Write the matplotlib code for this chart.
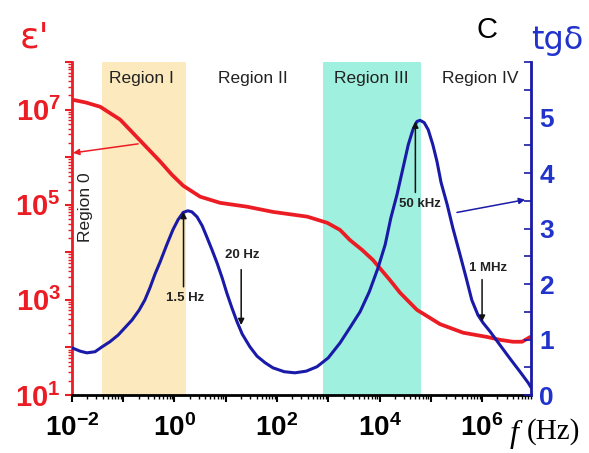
import matplotlib

matplotlib.use("Agg")
import matplotlib.pyplot as plt
import numpy as np
from matplotlib.ticker import FixedLocator, FuncFormatter, LogLocator, MultipleLocator

plt.rcParams["font.family"] = ["Liberation Sans", "DejaVu Sans"]
plt.rcParams["mathtext.fontset"] = "custom"
plt.rcParams["mathtext.rm"] = "Liberation Sans"
plt.rcParams["mathtext.bf"] = "Liberation Sans:bold"
plt.rcParams["mathtext.it"] = "Liberation Sans:italic"

RED = "#ec1c24"
BLUE = "#1a1aa8"
BLUE_TXT = "#2233cc"

# ε' (log10) vs log10 f
eps_logf = [-2.00, -1.73, -1.45, -1.06, -0.67, -0.28, -0.05, 0.17, 0.50, 0.89,
            1.41, 1.92, 2.59, 2.98, 3.23, 3.42, 3.66, 3.87, 4.20, 4.40,
            4.73, 5.18, 5.63, 6.10, 6.35, 6.60, 6.78, 6.94]
eps_log = [7.21, 7.15, 7.06, 6.79, 6.35, 5.91, 5.63, 5.40, 5.17, 5.04,
           4.96, 4.85, 4.75, 4.62, 4.47, 4.26, 4.05, 3.84, 3.42, 3.15,
           2.79, 2.49, 2.31, 2.22, 2.16, 2.12, 2.12, 2.22]

# tgδ vs log10 f
tg_logf = [-2.00, -1.84, -1.71, -1.55, -1.41, -1.26, -1.10, -0.97, -0.83, -0.69,
           -0.58, -0.48, -0.38, -0.28, -0.15, -0.03, 0.07, 0.17, 0.26, 0.34,
           0.44, 0.54, 0.63, 0.73, 0.83, 0.93, 1.02, 1.12, 1.22, 1.32,
           1.47, 1.61, 1.77, 1.92, 2.14, 2.35, 2.57, 2.78, 3.00, 3.23,
           3.42, 3.62, 3.80, 3.97, 4.11, 4.22, 4.34, 4.46, 4.56, 4.65,
           4.73, 4.79, 4.87, 4.95, 5.04, 5.12, 5.20, 5.32, 5.43, 5.57,
           5.69, 5.80, 5.92, 6.02, 6.16, 6.35, 6.55, 6.74, 6.90, 6.96]
tg = [0.85, 0.79, 0.76, 0.78, 0.87, 0.96, 1.08, 1.21, 1.35, 1.53,
      1.71, 1.93, 2.18, 2.40, 2.71, 2.98, 3.16, 3.29, 3.32, 3.30,
      3.21, 3.05, 2.85, 2.62, 2.38, 2.11, 1.84, 1.57, 1.32, 1.10,
      0.87, 0.70, 0.58, 0.49, 0.42, 0.40, 0.43, 0.51, 0.67, 0.94,
      1.21, 1.50, 1.86, 2.29, 2.71, 3.19, 3.61, 4.10, 4.51, 4.78,
      4.93, 4.95, 4.91, 4.78, 4.51, 4.21, 3.83, 3.43, 3.01, 2.53,
      2.11, 1.71, 1.44, 1.30, 1.14, 0.90, 0.65, 0.42, 0.22, 0.13]

regions = ["Region I", "Region II", "Region III", "Region IV"]
region_x = [0.23, 34, 6900, 9.1e5]
region_I = (0.039, 1.65)
region_III = (800, 6.3e4)

# frequency markers: (label, f, tail tgδ, tip tgδ, text f, text tgδ)
markers = [
    ("1.5 Hz", 1.5, 1.95, 3.30, 1.58, 1.75),
    ("20 Hz", 20, 2.26, 1.26, 21, 2.53),
    ("50 kHz", 5e4, 3.65, 4.93, 6.2e4, 3.45),
    ("1 MHz", 1e6, 2.08, 1.32, 1.3e6, 2.29),
]

fig = plt.figure(figsize=(5.89, 4.53), dpi=100)
ax = fig.add_axes([0.1222, 0.128, 0.7793, 0.735])
ax2 = ax.twinx()

ax.axvspan(*region_I, color="#fce9bd", lw=0, zorder=0)
ax.axvspan(*region_III, color="#9ff0de", lw=0, zorder=0)

ax.plot(10 ** np.array(eps_logf), 10 ** np.array(eps_log), color=RED, lw=2.7,
        solid_capstyle="round", solid_joinstyle="round")
ax2.plot(10 ** np.array(tg_logf), tg, color=BLUE, lw=2.2,
         solid_capstyle="round", solid_joinstyle="round")

ax.set_xscale("log")
ax.set_yscale("log")
ax.set_xlim(1e-2, 9e6)
ax.set_ylim(1e1, 1e8)
ax2.set_ylim(0, 6)


def pow_label(v, _pos, keep_even=True):
    e = int(round(np.log10(v)))
    if (e % 2 == 0) != keep_even:
        return ""
    return r"$\mathbf{10^{%d}}$" % e


ax.xaxis.set_major_locator(FixedLocator([10.0 ** k for k in range(-2, 7)]))
ax.xaxis.set_minor_locator(LogLocator(base=10, subs=np.arange(2, 10), numticks=20))
ax.xaxis.set_major_formatter(FuncFormatter(pow_label))
ax.xaxis.set_minor_formatter(FuncFormatter(lambda v, p: ""))
ax.yaxis.set_major_locator(FixedLocator([10.0 ** k for k in range(1, 9)]))
ax.yaxis.set_minor_locator(LogLocator(base=10, subs=np.arange(2, 10), numticks=20))
ax.yaxis.set_major_formatter(FuncFormatter(lambda v, p: pow_label(v, p, keep_even=False)))
ax.yaxis.set_minor_formatter(FuncFormatter(lambda v, p: ""))

ax2.yaxis.set_major_locator(MultipleLocator(1))
ax2.yaxis.set_minor_locator(MultipleLocator(0.5))
ax2.yaxis.set_major_formatter(FuncFormatter(lambda v, p: "%d" % v if v < 5.5 else ""))

for a in (ax, ax2):
    a.spines["top"].set_visible(False)
ax.spines["left"].set_color(RED)
ax.spines["left"].set_linewidth(2)
ax.spines["bottom"].set_linewidth(2)
ax.spines["right"].set_visible(False)
ax2.spines["left"].set_visible(False)
ax2.spines["bottom"].set_visible(False)
ax2.spines["right"].set_color(BLUE)
ax2.spines["right"].set_linewidth(2)

ax.tick_params(axis="x", which="major", direction="out", length=5, width=1.5,
               pad=9, labelsize=20)
ax.tick_params(axis="x", which="minor", direction="out", length=3, width=1)
ax.tick_params(axis="y", which="major", direction="out", length=5, width=1.5,
               color=RED, labelcolor=RED, pad=3, labelsize=21)
ax.tick_params(axis="y", which="minor", direction="out", length=3, width=1, color=RED)
ax2.tick_params(axis="y", which="both", direction="in", length=5, width=1.2,
                color=BLUE, labelcolor=BLUE_TXT, pad=6)
ax2.tick_params(axis="y", which="major", labelsize=19)
for t in ax2.get_yticklabels():
    t.set_fontweight("bold")

for name, xr in zip(regions, region_x):
    ax.text(xr, 0.952, name, transform=ax.get_xaxis_transform(), ha="center",
            va="center", fontsize=12.5, color="#222222")
ax.text(0.0187, 9e4, "Region 0", rotation=90, ha="center", va="center",
        fontsize=12.5, color="#222222")

for label, f, y0, y1, tx, ty in markers:
    ax2.annotate("", xy=(f, y1), xytext=(f, y0),
                 arrowprops=dict(arrowstyle="-|>", color="#111111", lw=1.1,
                                 mutation_scale=9, shrinkA=0, shrinkB=0))
    ax2.text(tx, ty, label, ha="center", va="center", fontsize=9.5,
             fontweight="bold", color="#222222")

# arrows pointing each curve to its axis
ax.annotate("", xy=(0.0105, 10 ** 6.09), xytext=(0.195, 10 ** 6.28),
            arrowprops=dict(arrowstyle="-|>", color=RED, lw=1.1, mutation_scale=9,
                            shrinkA=0, shrinkB=0))
ax2.annotate("", xy=(10 ** 6.84, 3.52), xytext=(10 ** 5.51, 3.29),
             arrowprops=dict(arrowstyle="-|>", color=BLUE, lw=1.1, mutation_scale=9,
                             shrinkA=0, shrinkB=0))

fig.text(34 / 589, 1 - 38 / 453, "ε'", color=RED, fontsize=26, ha="center",
         va="center", family=["DejaVu Sans"])
fig.text(557 / 589, 1 - 40 / 453, "tgδ", color=BLUE_TXT, fontsize=23, ha="center",
         va="center", family=["DejaVu Sans"])
fig.text(487 / 589, 1 - 30 / 453, "C", color="black", fontsize=21, ha="center",
         va="center")
fig.text(514 / 589, 1 - 434 / 453, "f", color="black", fontsize=23, ha="center",
         va="center", family=["Liberation Serif"], style="italic")
fig.text(553 / 589, 1 - 432 / 453, "(Hz)", color="black", fontsize=21, ha="center",
         va="center", family=["Liberation Serif"])

fig.savefig("out.png", dpi=100)
